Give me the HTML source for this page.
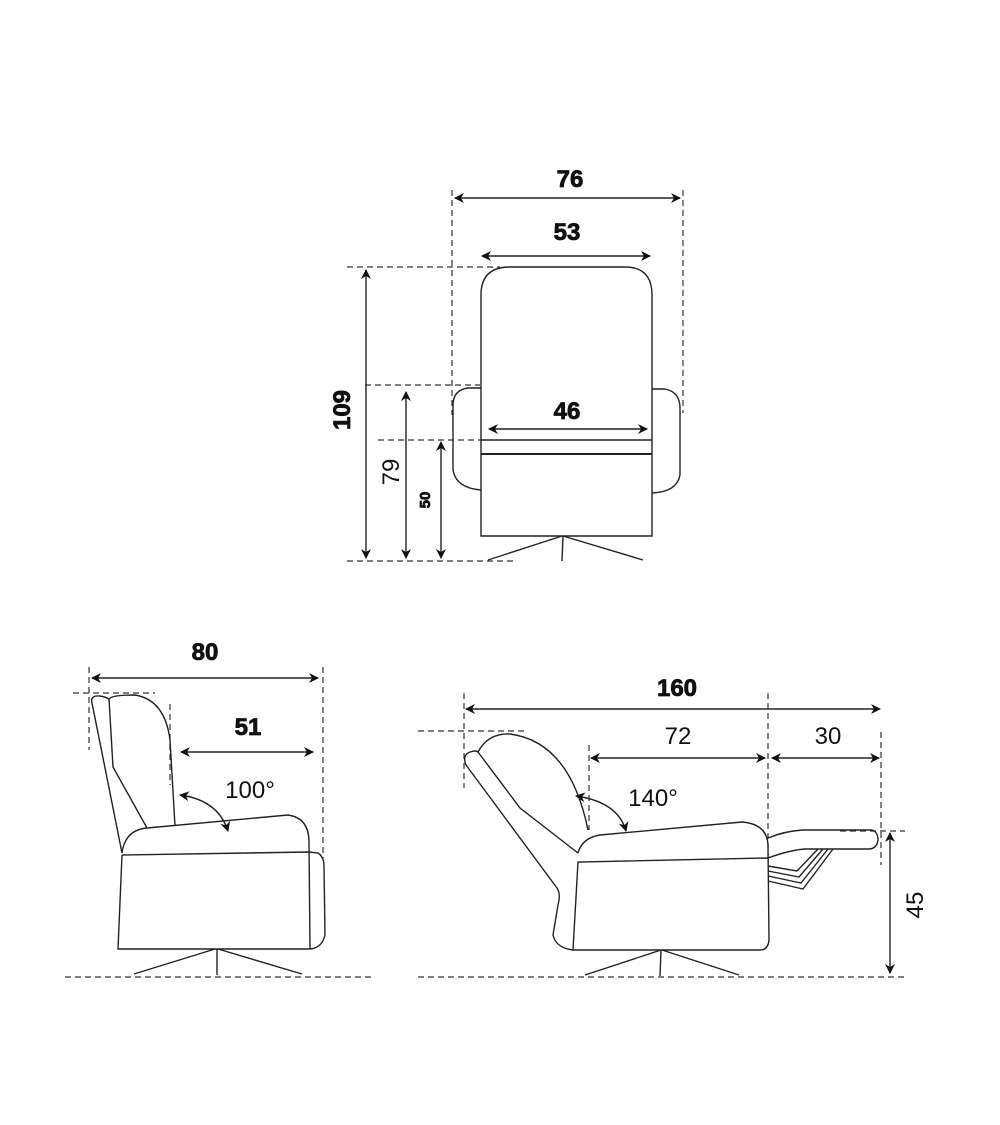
<!DOCTYPE html>
<html><head><meta charset="utf-8"><style>
html,body{margin:0;padding:0;background:#fff}
svg{display:block}
text{font-family:"Liberation Sans",sans-serif;fill:#111}
.b{font-weight:bold;stroke:#111;stroke-width:0.8}
</style></head><body>
<svg width="1000" height="1125" viewBox="0 0 1000 1125" xmlns="http://www.w3.org/2000/svg">
<defs>
<marker id="a" viewBox="0 0 10 10" refX="9" refY="5" markerWidth="11" markerHeight="10" orient="auto-start-reverse" markerUnits="userSpaceOnUse"><path d="M0,0 L10,5 L0,10 L3,5 z" fill="#111"/></marker>
</defs>
<g fill="none" stroke="#222" stroke-width="1.4">
<!-- FRONT VIEW -->
<g stroke-dasharray="6,4" stroke="#333" stroke-width="1.2">
<line x1="452" y1="190" x2="452" y2="415"/><line x1="683" y1="190" x2="683" y2="413"/>
<line x1="347" y1="267" x2="500" y2="267"/><line x1="365" y1="385" x2="480" y2="385"/>
<line x1="378" y1="440" x2="481" y2="440"/><line x1="347" y1="561" x2="517" y2="561"/>
</g>
<line x1="455" y1="198" x2="680" y2="198" marker-start="url(#a)" marker-end="url(#a)"/>
<line x1="482" y1="256" x2="650" y2="256" marker-start="url(#a)" marker-end="url(#a)"/>
<line x1="489" y1="429" x2="647" y2="429" marker-start="url(#a)" marker-end="url(#a)"/>
<path d="M481,536 L481,295 Q481,267 510,267 L625,267 Q652,267 652,295 L652,536 Z"/>
<line x1="481" y1="440" x2="652" y2="440"/>
<line x1="481" y1="454" x2="652" y2="454" stroke-width="2"/>
<path d="M481,388 L468,388 Q453,390 453,405 L453,470 Q456,488 481,490"/>
<path d="M652,389 L665,389 Q680,392 680,408 L680,475 Q677,492 652,493"/>
<path d="M562,536 L488,560 M563,536 L562,561 M563,536 L643,560"/>
<line x1="366" y1="270" x2="366" y2="558" marker-start="url(#a)" marker-end="url(#a)"/>
<line x1="406" y1="392" x2="406" y2="558" marker-start="url(#a)" marker-end="url(#a)"/>
<line x1="441" y1="442" x2="441" y2="558" marker-start="url(#a)" marker-end="url(#a)"/>
<!-- SIDE VIEW -->
<g stroke-dasharray="6,4" stroke="#333" stroke-width="1.2">
<line x1="89" y1="667" x2="89" y2="750"/><line x1="323" y1="667" x2="323" y2="858"/>
<line x1="73" y1="693" x2="155" y2="693"/><line x1="170" y1="704" x2="170" y2="785"/>
<line x1="65" y1="977" x2="372" y2="977"/>
</g>
<line x1="92" y1="678" x2="318" y2="678" marker-start="url(#a)" marker-end="url(#a)"/>
<line x1="181" y1="752" x2="313" y2="752" marker-start="url(#a)" marker-end="url(#a)"/>
<path d="M180,795 Q218,800 228,831" marker-start="url(#a)" marker-end="url(#a)"/>
<path d="M122,853 L92,703 Q90,695 100,696 Q106,697 109,699 Q112,695 135,695 Q165,700 170,740 L175,826"/>
<path d="M109,699 L113,767 L147,828"/>
<path d="M122,853 Q125,830 147,828 L288,815 Q309,818 309,842 L310,949"/>
<path d="M122,855 L309,852 L318,853 Q324,857 324,866 L325,935 Q322,948 310,949 L118,949 L122,855"/>
<path d="M215,949 L134,974 M217,949 L217,975 M218,949 L302,974"/>
<!-- RECLINED VIEW -->
<g stroke-dasharray="6,4" stroke="#333" stroke-width="1.2">
<line x1="464" y1="693" x2="464" y2="788"/><line x1="768" y1="693" x2="768" y2="863"/>
<line x1="418" y1="731" x2="528" y2="731"/><line x1="589" y1="745" x2="589" y2="830"/>
<line x1="881" y1="732" x2="881" y2="865"/><line x1="840" y1="831" x2="905" y2="831"/>
<line x1="418" y1="977" x2="905" y2="977"/>
</g>
<line x1="466" y1="709" x2="880" y2="709" marker-start="url(#a)" marker-end="url(#a)"/>
<line x1="591" y1="758" x2="765" y2="758" marker-start="url(#a)" marker-end="url(#a)"/>
<line x1="772" y1="758" x2="879" y2="758" marker-start="url(#a)" marker-end="url(#a)"/>
<line x1="890" y1="833" x2="890" y2="973" marker-start="url(#a)" marker-end="url(#a)"/>
<path d="M576,796 Q618,802 626,831" marker-start="url(#a)" marker-end="url(#a)"/>
<path d="M466,765 Q462,755 470,752 Q476,750 478,752 Q488,733 510,734 Q570,742 588,830"/>
<path d="M466,765 L557,888 Q561,894 558,905 L553,935 Q556,948 573,950"/>
<path d="M478,752 L520,808 L578,853"/>
<path d="M578,853 Q582,838 600,835 L742,822 Q767,824 768,845 L769,940 Q768,950 760,950 L573,950 L578,862 L768,858"/>
<path d="M768,838 Q785,831 803,830 L872,830 Q878,832 878,840 Q877,848 870,849 L805,849 Q790,850 768,858"/>
<path d="M768,866 L797,871 L818,849 M768,871 L799,877 L823,849 M768,876 L801,883 L828,849 M768,881 L803,889 L833,849"/>
<path d="M661,950 L585,975 M661,950 L660,976 M662,950 L739,975"/>
</g>
<text x="570" y="187" class="b" font-size="24" text-anchor="middle">76</text>
<text x="567" y="240" class="b" font-size="24" text-anchor="middle">53</text>
<text x="567" y="419" class="b" font-size="24" text-anchor="middle">46</text>
<text class="b" font-size="24" text-anchor="middle" transform="translate(350,410) rotate(-90)">109</text>
<text font-size="24" text-anchor="middle" transform="translate(399,472) rotate(-90)">79</text>
<text class="b" font-size="15" text-anchor="middle" transform="translate(430,500) rotate(-90)">50</text>
<text x="205" y="660" class="b" font-size="24" text-anchor="middle">80</text>
<text x="248" y="735" class="b" font-size="24" text-anchor="middle">51</text>
<text x="250" y="798" font-size="24" text-anchor="middle">100°</text>
<text x="677" y="696" class="b" font-size="24" text-anchor="middle">160</text>
<text x="678" y="744" font-size="24" text-anchor="middle">72</text>
<text x="828" y="744" font-size="24" text-anchor="middle">30</text>
<text x="653" y="806" font-size="24" text-anchor="middle">140°</text>
<text font-size="24" text-anchor="middle" transform="translate(923,905) rotate(-90)">45</text>
</svg>
</body></html>
